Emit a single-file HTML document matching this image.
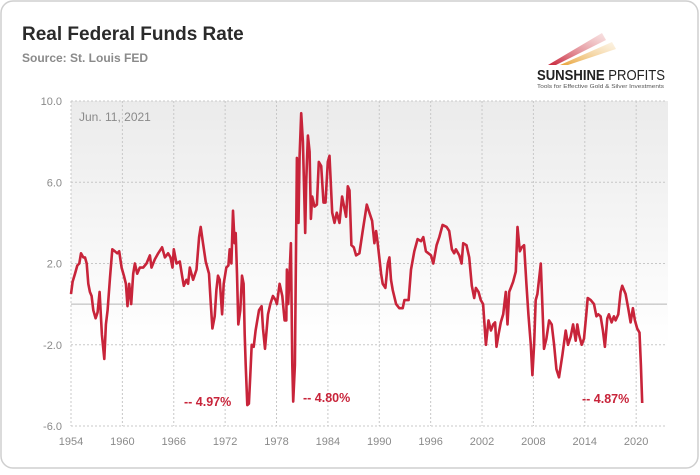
<!DOCTYPE html>
<html><head><meta charset="utf-8"><style>
html,body{margin:0;padding:0;background:#fff;}
body{width:700px;height:470px;overflow:hidden;font-family:"Liberation Sans",sans-serif;}
</style></head><body>
<svg width="700" height="470" viewBox="0 0 700 470">
<defs>
<linearGradient id="bg" x1="0" y1="0" x2="0" y2="1">
<stop offset="0" stop-color="#ebebeb"/><stop offset="0.75" stop-color="#ffffff"/><stop offset="1" stop-color="#ffffff"/>
</linearGradient>
<linearGradient id="sw1" x1="0" y1="1" x2="1" y2="0"><stop offset="0" stop-color="#c8243a"/><stop offset="1" stop-color="#e8a0a0" stop-opacity="0.3"/></linearGradient>
<linearGradient id="sw2" x1="0" y1="1" x2="1" y2="0"><stop offset="0" stop-color="#e9a43a"/><stop offset="1" stop-color="#f5d9a8" stop-opacity="0.3"/></linearGradient>
</defs>
<rect x="1" y="1" width="697" height="467" rx="12" fill="#fff" stroke="#cfcfcf" stroke-width="1.5"/>
<text x="22" y="40" font-size="19" font-weight="bold" fill="#2a2a2a">Real Federal Funds Rate</text>
<text x="22" y="62" font-size="12" font-weight="bold" fill="#8a8a8a">Source: St. Louis FED</text>
<g>
<polygon points="548,65 602,33 606,40 556,65" fill="url(#sw1)"/>
<polygon points="560,65 612,42 616,49 568,65" fill="url(#sw2)"/>
<text x="537" y="80" font-size="14.5" font-weight="bold" fill="#222" textLength="128" lengthAdjust="spacingAndGlyphs">SUNSHINE <tspan font-weight="normal">PROFITS</tspan></text>
<text x="537" y="88" font-size="5.5" fill="#555" textLength="127" lengthAdjust="spacingAndGlyphs">Tools for Effective Gold &amp; Silver Investments</text>
</g>
<rect x="71" y="101" width="597" height="325" fill="url(#bg)"/>
<g id="grid"></g>
<g id="axes"></g>
<text x="79" y="121" font-size="12" fill="#8a8a8a">Jun. 11, 2021</text>
<path id="line" fill="none" stroke="#c8243a" stroke-width="2.6" stroke-linejoin="round"/>
<text x="184" y="406" font-size="12.5" font-weight="bold" fill="#c8243a">-- 4.97%</text>
<text x="303" y="402" font-size="12.5" font-weight="bold" fill="#c8243a">-- 4.80%</text>
<text x="582" y="403" font-size="12.5" font-weight="bold" fill="#c8243a">-- 4.87%</text>
</svg>
<script>
const yTicks=[10,6,2,-2,-6];
const yTickLabels=["10.0","6.0","2.0","-2.0","-6.0"];
const xTicks=[1954,1960,1966,1972,1978,1984,1990,1996,2002,2008,2014,2020];
const years=[0,.19,.47,.74,.97,1.17,1.44,1.63,1.83,2.02,2.21,2.41,2.6,2.87,3.11,3.34,3.61,3.89,4.08,4.27,4.55,4.82,5.13,5.4,5.63,5.91,6.18,6.41,6.6,6.8,7.03,7.26,7.46,7.73,8.04,8.43,8.82,9.21,9.4,9.79,10.18,10.64,10.96,11.34,11.62,11.85,12,12.32,12.7,13.01,13.17,13.48,13.68,13.87,14.26,14.65,14.96,15.15,15.42,15.73,16.12,16.32,16.51,16.78,16.98,17.17,17.37,17.64,17.83,18.14,18.38,18.53,18.73,18.92,19.11,19.23,19.39,19.54,19.77,19.97,20.16,20.28,20.4,20.59,20.78,20.94,21.1,21.33,21.56,21.95,22.26,22.42,22.65,23,23.27,23.58,23.89,24.05,24.36,24.67,24.94,25.14,25.21,25.37,25.68,25.84,25.95,26.15,26.38,26.57,26.69,26.88,27.08,27.23,27.35,27.47,27.66,27.86,28.01,28.17,28.44,28.71,28.94,29.22,29.49,29.72,29.99,30.19,30.5,30.77,31.04,31.35,31.66,32.13,32.32,32.52,32.75,33.02,33.29,33.68,34.07,34.54,34.85,35.16,35.43,35.63,35.82,36.21,36.4,36.71,36.99,37.18,37.37,37.57,37.96,38.34,38.73,38.93,39.43,39.7,40.09,40.48,40.87,41.14,41.45,42.04,42.31,42.7,43.01,43.4,43.86,44.17,44.48,44.75,44.95,45.34,45.61,45.8,46.19,46.5,46.81,47.09,47.28,47.59,47.86,48.13,48.45,48.76,49.03,49.3,49.53,49.69,49.92,50.19,50.47,50.78,50.97,51.17,51.36,51.63,51.94,52.14,52.41,52.64,52.91,53.18,53.42,53.69,53.88,54.08,54.27,54.47,54.86,55.13,55.24,55.52,55.83,56.14,56.41,56.68,56.99,57.38,57.77,58.04,58.35,58.63,58.94,59.13,59.32,59.64,59.91,60.18,60.34,60.69,61.07,61.35,61.58,61.85,62.12,62.35,62.63,62.82,63.13,63.4,63.6,63.91,64.18,64.37,64.76,65.07,65.35,65.62,65.85,66.12,66.39,66.55,66.7].map(o=>1954+o);
const rates=[0.5,1.1,1.5,1.9,2.0,2.5,2.3,2.3,2.0,1.0,0.6,0.4,-0.3,-0.7,-0.4,0.6,-1.5,-2.7,-1.0,-0.3,1.3,2.7,2.6,2.5,2.6,1.8,1.4,1.0,-0.1,1.0,0.0,1.5,2.0,1.5,1.8,1.8,2.0,2.4,1.8,2.2,2.5,2.8,2.3,2.5,2.3,1.8,2.7,2.0,2.1,1.3,0.9,1.2,1.0,1.8,1.2,1.7,3.3,3.8,3.0,2.1,1.5,0.0,-1.2,-0.6,0.7,1.4,1.2,-0.5,1.0,1.8,1.9,2.7,2.0,4.6,3.0,3.5,1.5,-1.0,-0.3,1.4,1.0,-1.5,-3.0,-4.97,-4.9,-3.5,-2.0,-2.1,-1.3,-0.3,-0.1,-1.2,-2.2,-0.5,0.0,0.4,0.2,0.0,1.0,0.4,-0.8,-0.8,1.7,0.0,3.0,-3.0,-4.8,-3.0,7.2,4.0,7.3,9.4,8.0,5.5,3.5,6.0,8.3,7.5,4.2,5.3,4.8,4.9,7.0,6.8,5.0,5.0,7.0,7.3,4.5,4.0,4.5,4.0,5.3,4.3,5.8,5.6,2.9,2.8,2.4,2.5,3.6,4.9,4.5,4.1,3.0,3.6,3.0,1.5,1.0,0.8,2.0,2.3,1.2,0.7,0.0,-0.2,-0.2,0.2,0.2,1.7,2.6,3.2,3.1,3.3,2.6,2.4,2.0,2.9,3.3,3.9,3.8,3.6,2.7,2.5,2.7,2.4,2.0,3.0,2.9,2.3,0.9,0.3,0.8,0.6,0.2,0.0,-2.0,-0.8,-1.3,-1.0,-0.9,-2.1,-1.5,-0.9,-0.5,0.6,-1.0,0.6,0.8,1.1,1.6,3.8,2.6,2.8,2.9,1.0,-0.5,-2.0,-3.5,-2.0,0.2,0.5,2.0,-1.0,-2.2,-1.7,-0.8,-1.0,-2.0,-3.2,-3.6,-2.5,-1.3,-2.0,-1.6,-1.0,-1.8,-1.0,-1.5,-2.0,-1.7,-0.5,0.3,0.2,0.0,-0.6,-0.5,-0.6,-1.3,-2.1,-0.7,-0.5,-0.9,-0.6,-0.8,-0.5,0.6,0.9,0.5,-0.2,-0.9,-0.2,-0.8,-1.2,-1.4,-3.0,-4.87];

const X0=71,X1=667,Y0=101,Y1=426;
const xS=y=>X0+(y-1954)/(2023.6-1954)*(X1-X0);
const yS=v=>Y0+(10-v)/16*(Y1-Y0);
const NS="http://www.w3.org/2000/svg";
const grid=document.getElementById('grid'),axes=document.getElementById('axes');
function mk(tag,at,parent){const e=document.createElementNS(NS,tag);for(const k in at)e.setAttribute(k,at[k]);parent.appendChild(e);return e;}
yTicks.forEach((v,i)=>{
  const l=mk('line',{x1:X0,x2:X1,y1:yS(v),y2:yS(v),stroke:'#c8c8c8','stroke-dasharray':'2,2'},grid);
  
  
  const t=mk('text',{x:62,y:yS(v)+4,'font-size':11,fill:'#8a8a8a','text-anchor':'end'},axes);
  t.textContent=yTickLabels[i];
  
  
});
const z=mk('line',{x1:X0,x2:X1,y1:yS(0),y2:yS(0),stroke:'#b5b5b5','stroke-width':1},grid);


xTicks.forEach(yr=>{
  const l=mk('line',{x1:xS(yr),x2:xS(yr),y1:Y0,y2:Y1,stroke:'#c8c8c8','stroke-dasharray':'2,2'},grid);
  
  
  const t=mk('text',{x:xS(yr),y:445,'font-size':11,fill:'#8a8a8a','text-anchor':'middle'},axes);
  t.textContent=String(yr);
  
  
});
document.getElementById('line').setAttribute('d',years.map((y,i)=>(i?'L':'M')+xS(y).toFixed(1)+','+yS(rates[i]).toFixed(1)).join(''));
</script>
</body></html>
